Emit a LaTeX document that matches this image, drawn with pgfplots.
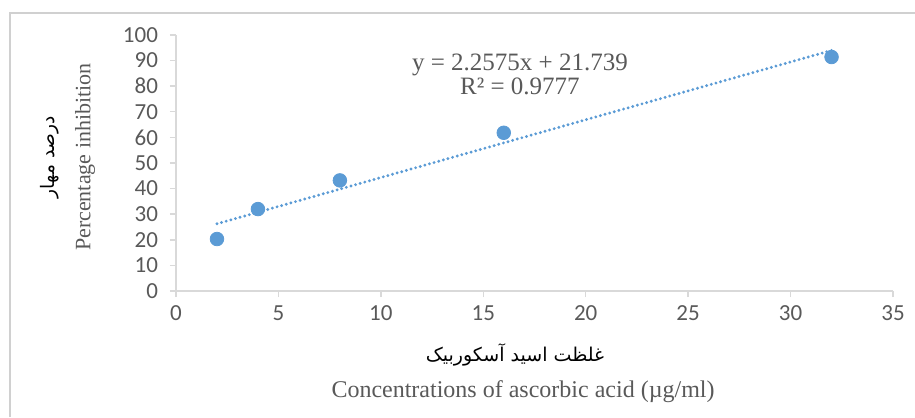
\documentclass[border=0pt]{standalone}
\usepackage{fontspec}
\setmainfont{Liberation Serif}
\newfontfamily\carlito{Carlito}
\newfontfamily\arabicfont[Script=Arabic]{DejaVu Sans}
\TeXXeTstate=1
\usepackage{pgfplots}
\pgfplotsset{compat=1.18}
\definecolor{excelblue}{HTML}{5B9BD5}
\definecolor{axisgray}{HTML}{D9D9D9}
\definecolor{textgray}{HTML}{595959}
\definecolor{framegray}{HTML}{D0D0D0}

\begin{document}
\begin{tikzpicture}
\begin{axis}[
  scale only axis, width=358.5pt, height=128pt,
  xmin=0, xmax=35, ymin=0, ymax=100,
  xtick={0,5,...,35}, ytick={0,10,...,100},
  axis x line*=bottom, axis y line*=left,
  axis line style={-, axisgray, line width=0.7pt},
  tick style={axisgray, line width=0.7pt},
  tick align=outside, major tick length=3pt,
  /pgf/number format/assume math mode=true,
  tick label style={font=\carlito\fontsize{11.5}{13}\selectfont, text=textgray},
  yticklabel style={xshift=-2.5pt},
  xticklabel style={yshift=-0.8pt},
  clip=false,
]
% trendline from the fitted equation
\addplot[excelblue, line width=1.6pt, line cap=round, dash pattern=on 0pt off 2.4pt]
  coordinates {(2,26.254) (32,93.979)};
\addplot[only marks, mark=*, mark size=3.4pt, excelblue]
  coordinates {(2,20.3) (4,32) (8,43.2) (16,61.8) (32,91.4)};

\node[text=textgray, font=\fontsize{12.5}{12}\selectfont, align=center]
  at (axis cs:16.79,84.8) {y = 2.2575x + 21.739\\R² = 0.9777};

\node[rotate=90, font=\arabicfont\fontsize{9.3}{11}\selectfont]
  at (axis cs:-6.15,52.3) {\beginR درصد مهار\endR};
\node[rotate=90, text=textgray, font=\fontsize{11}{13}\selectfont]
  at (axis cs:-4.44,52.3) {Percentage inhibition};
\node[font=\arabicfont\fontsize{9.5}{11}\selectfont]
  at (axis cs:16.55,-25) {\beginR غلظت اسید آسکوربیک\endR};
\node[text=textgray, font=\fontsize{12}{13}\selectfont]
  at (axis cs:16.94,-39.45) {Concentrations of ascorbic acid (µg/ml)};

\draw[framegray, line width=0.8pt] (axis cs:-8.103,-49.22) -- (axis cs:-8.103,108.59) -- (axis cs:36.074,108.59);
\coordinate (bl) at (axis cs:-8.591,-49.22);
\coordinate (tr) at (axis cs:36.074,113.67);
\end{axis}
\pgfresetboundingbox
\path[use as bounding box] (bl) rectangle (tr);
\end{tikzpicture}
\end{document}
